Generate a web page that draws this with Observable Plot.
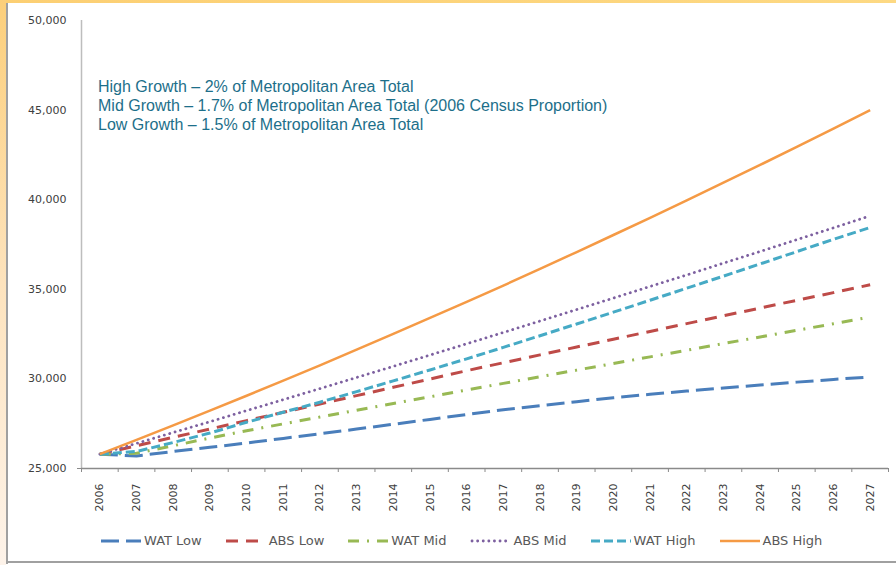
<!DOCTYPE html>
<html>
<head>
<meta charset="utf-8">
<script src="https://cdn.jsdelivr.net/npm/d3@7"></script>
<script src="https://cdn.jsdelivr.net/npm/@observablehq/plot@0.6"></script>
<style>
  html, body { margin: 0; padding: 0; background: #fff; }
  #wrap { position: relative; width: 896px; height: 565px; overflow: hidden; background: #fff; }
  .strip-top { position: absolute; left: 0; top: 0; width: 896px; height: 3px; background: linear-gradient(to right, #fccf73, #fdd983); }
  .strip-left { position: absolute; left: 0; top: 0; width: 6px; height: 565px; background: linear-gradient(to bottom, #fccf7a, #fde3bd 50%, #fdf3ea); }
  .gray-left { position: absolute; left: 6px; top: 3px; width: 2px; height: 561px; background: #a0a0a0; }
  .gray-bottom { position: absolute; left: 6px; top: 561px; width: 890px; height: 2px; background: #a0a0a0; }
  #chart { position: absolute; left: 0; top: 0; }
  #note { position: absolute; left: 98px; top: 77px; font-family: "Liberation Sans", Arial, sans-serif; font-size: 16px; line-height: 19px; color: #1d6f8a; white-space: nowrap; }
  #legend { position: absolute; left: 101px; top: 532px; height: 18px; display: flex; gap: 24px; font-family: "DejaVu Sans", sans-serif; font-size: 13px; line-height: 18px; color: #595959; white-space: nowrap; }
  #legend .item { display: flex; align-items: center; gap: 3px; }
  #legend svg { display: block; }
</style>
</head>
<body>
<div id="wrap">
  <div class="strip-top"></div>
  <div class="strip-left"></div>
  <div class="gray-left"></div>
  <div class="gray-bottom"></div>
  <div id="chart"></div>
  <div id="note">
    <div>High Growth – 2% of Metropolitan Area Total</div>
    <div>Mid Growth – 1.7% of Metropolitan Area Total (2006 Census Proportion)</div>
    <div>Low Growth – 1.5% of Metropolitan Area Total</div>
  </div>
  <div id="legend"></div>
</div>
<script>
const years = [2006,2007,2008,2009,2010,2011,2012,2013,2014,2015,2016,2017,2018,2019,2020,2021,2022,2023,2024,2025,2026,2027];
const watLow  = [25800,25700,25950,26180,26420,26680,26940,27200,27470,27740,28010,28280,28510,28730,28950,29140,29320,29490,29660,29820,29970,30110];
const absLow  = [25800,26270,26740,27205,27670,28135,28600,29065,29530,29995,30460,30900,31340,31780,32215,32650,33085,33520,33955,34385,34815,35250];
const watMid  = [25800,25850,26270,26700,27110,27490,27870,28250,28630,29000,29380,29750,30120,30490,30860,31230,31600,31970,32340,32710,33080,33450];
const absMid  = [25800,26400,27010,27610,28230,28840,29460,30080,30700,31330,31960,32590,33230,33870,34510,35160,35800,36460,37110,37770,38430,39100];
const watHigh = [25800,25950,26450,26980,27580,28140,28700,29290,29890,30500,31120,31760,32410,33065,33725,34390,35060,35735,36415,37100,37790,38450];
const absHigh = [25800,26600,27410,28230,29060,29900,30760,31630,32510,33400,34300,35210,36140,37080,38030,38990,39960,40950,41940,42950,43970,45000];
const yTicks = [25000,30000,35000,40000,45000,50000];
const seriesNames = ["WAT Low","ABS Low","WAT Mid","ABS Mid","WAT High","ABS High"];
const seriesValues = [watLow, absLow, watMid, absMid, watHigh, absHigh];

const styles = [
  {stroke: "#4a7ebb", dash: "18,7", width: 3, cap: "butt"},
  {stroke: "#be4b48", dash: "12,8", width: 3, cap: "butt"},
  {stroke: "#98b954", dash: "11,8,2,8", width: 3, cap: "butt"},
  {stroke: "#7d60a0", dash: "0.1,5.5", width: 2.8, cap: "round"},
  {stroke: "#46aac5", dash: "9,4", width: 3, cap: "butt"},
  {stroke: "#f59a45", dash: null, width: 2.5, cap: "butt"}
];

const boundaries = years.map(y => y - 0.5).concat([years[years.length - 1] + 0.5]);

const lineMarks = seriesValues.map((vals, i) => Plot.line(vals, {
  x: years, y: d => d,
  stroke: styles[i].stroke,
  strokeWidth: styles[i].width,
  strokeDasharray: styles[i].dash || undefined,
  strokeLinecap: styles[i].cap,
  strokeLinejoin: "round"
}));

const chart = Plot.plot({
  width: 896,
  height: 565,
  marginLeft: 81,
  marginRight: 8,
  marginTop: 20,
  marginBottom: 97,
  x: {type: "linear", domain: [2005.5, 2027.5]},
  y: {domain: [25000, 50000]},
  style: {background: "transparent", overflow: "visible", fontFamily: "DejaVu Sans, sans-serif", fontSize: "11px", color: "#404040"},
  marks: [
    Plot.ruleX([2005.5], {stroke: "#bdbdbd", strokeWidth: 1.5}),
    Plot.axisY({ticks: yTicks, tickSize: 0, tickPadding: 15, tickFormat: d3.format(","), label: null, fill: "#404040", style: {letterSpacing: "0.8px"}}),
    Plot.axisY({ticks: [25000], tickSize: 4, tickFormat: () => "", label: null, stroke: "#8a8a8a"}),
    ...lineMarks,
    Plot.ruleY([25000], {stroke: "#8a8a8a", strokeWidth: 1.5}),
    Plot.axisX({ticks: boundaries, tickSize: 4, tickFormat: () => "", label: null, stroke: "#8a8a8a"}),
    Plot.axisX({ticks: years, tickSize: 0, tickPadding: 15, tickRotate: -90, tickFormat: d => String(d), label: null, fill: "#404040"})
  ]
});
document.getElementById("chart").appendChild(chart);

// Legend
const legend = d3.select("#legend");
seriesNames.forEach((name, i) => {
  const item = legend.append("div").attr("class", "item");
  const svg = item.append("svg").attr("width", 40).attr("height", 10);
  svg.append("line")
    .attr("x1", styles[i].cap === "round" ? 2 : 0).attr("x2", 40)
    .attr("y1", 5).attr("y2", 5)
    .attr("stroke", styles[i].stroke)
    .attr("stroke-width", styles[i].width)
    .attr("stroke-linecap", styles[i].cap)
    .attr("stroke-dasharray", styles[i].dash);
  item.append("span").text(name);
});
</script>
</body>
</html>
